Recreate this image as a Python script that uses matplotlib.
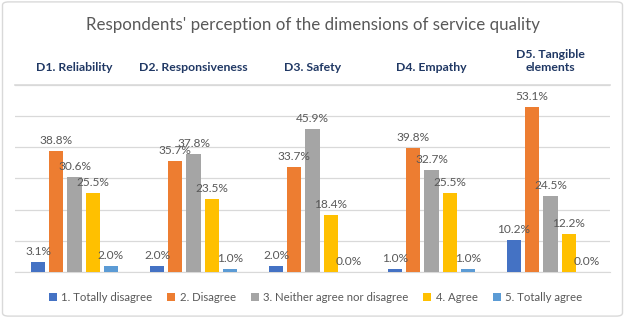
import matplotlib.pyplot as plt
import numpy as np
from matplotlib.patches import FancyBboxPatch, Patch

plt.rcParams['font.family'] = ['Lato', 'DejaVu Sans']

dimensions = ["D1. Reliability", "D2. Responsiveness", "D3. Safety", "D4. Empathy",
              "D5. Tangible\nelements"]
series_names = ["1. Totally disagree", "2. Disagree", "3. Neither agree nor disagree",
                "4. Agree", "5. Totally agree"]
totally_disagree = [3.1, 2.0, 2.0, 1.0, 10.2]
disagree = [38.8, 35.7, 33.7, 39.8, 53.1]
neither = [30.6, 37.8, 45.9, 32.7, 24.5]
agree = [25.5, 23.5, 18.4, 25.5, 12.2]
totally_agree = [2.0, 1.0, 0.0, 1.0, 0.0]
colors = ["#4472C4", "#ED7D31", "#A5A5A5", "#FFC000", "#5B9BD5"]
y_max = 60

series = [totally_disagree, disagree, neither, agree, totally_agree]

fig = plt.figure(figsize=(6.25, 3.18), dpi=100)
fig.patches.append(FancyBboxPatch((0.004, 0.006), 0.992, 0.988, boxstyle="round,pad=0,rounding_size=0.01",
                                  transform=fig.transFigure, facecolor="white",
                                  edgecolor="#D9D9D9", linewidth=1.0, zorder=-1))
ax = fig.add_axes([0.024, 0.1447, 0.952, 0.588])
ax.set_facecolor("none")

x = np.arange(len(dimensions))
step = 0.153
width = 0.118
for i, (vals, col) in enumerate(zip(series, colors)):
    pos = x + (i - 2) * step
    ax.bar(pos, vals, width=width, color=col, zorder=3)
    for px, v in zip(pos, vals):
        ax.annotate(f"{v:.1f}%", (px, v), xytext=(0, 3.5), textcoords="offset points",
                    ha="center", va="bottom", fontsize=8.6, color="#595959", zorder=4)

ax.set_ylim(0, y_max)
ax.set_xlim(-0.5, 4.5)
ax.set_yticks(np.arange(0, y_max + 1, 10))
ax.yaxis.grid(True, color="#D9D9D9", linewidth=0.9, zorder=0)
ax.axhline(y_max, color="#D9D9D9", linewidth=1.2, clip_on=False, zorder=0)
ax.tick_params(axis="y", left=False, labelleft=False)
for s in ["top", "right", "left"]:
    ax.spines[s].set_visible(False)
ax.spines["bottom"].set_color("#D9D9D9")

ax.xaxis.tick_top()
ax.set_xticks(x)
ax.set_xticklabels(dimensions, fontsize=8.8, fontweight="bold", color="#203864")
ax.tick_params(axis="x", top=False, bottom=False, pad=5)

fig.text(0.5, 0.922, "Respondents' perception of the dimensions of service quality",
         ha="center", va="center", fontsize=12.2, color="#595959")

handles = [Patch(facecolor=c, edgecolor="none") for c in colors]
fig.legend(handles, series_names, loc="center", bbox_to_anchor=(0.505, 0.066), ncol=5,
           frameon=False, fontsize=8.2, labelcolor="#595959", handlelength=0.7,
           handleheight=0.7, handletextpad=0.4, columnspacing=1.3)

fig.savefig("out.png", dpi=100)
